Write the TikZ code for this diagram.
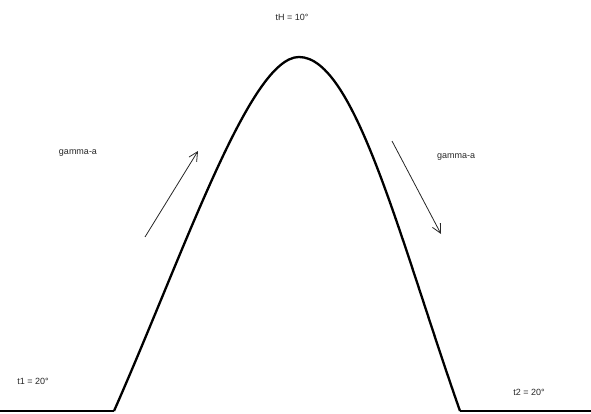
\documentclass[tikz,border=0pt]{standalone}
\usepackage{fontspec}
\setmainfont{Liberation Sans}
\usetikzlibrary{arrows.meta}
\begin{document}
\begin{tikzpicture}[x=1pt,y=-1pt,
  lbl/.style={font=\fontsize{9}{10}\selectfont, text=black!85, inner sep=0pt},
  curve/.style={line width=2.3pt, line join=round},
  base/.style={line width=1.6pt},
  flow/.style={line width=0.8pt, black!85, -{Straight Barb[length=9pt,width=9pt,line width=0.8pt]}}]
\useasboundingbox (0,0) rectangle (591,414);
% labels
\node[lbl] (tH) at (292,17) {tH = 10°};
\node[lbl] (ga1) at (78,153) {gamma-a};
\node[lbl] (ga2) at (456,157) {gamma-a};
\node[lbl] (t1) at (33,381) {t1 = 20°};
\node[lbl] (t2) at (529,392) {t2 = 20°};
% base lines
\coordinate (L0) at (0,411);
\coordinate (L1) at (114,411);
\coordinate (P) at (299,57);
\coordinate (R1) at (460,411);
\coordinate (R0) at (591,411);
\draw[base] (L0) -- (L1);
\draw[base] (R1) -- (R0);
% bell curve
\draw[curve] (L1) .. controls (185,250) and (250,57) .. (P)
                  .. controls (355,57) and (400,240) .. (R1);
% arrows
\coordinate (a1s) at (145,237);
\coordinate (a1e) at (198,151);
\coordinate (a2s) at (392,141);
\coordinate (a2e) at (441,234);
\draw[flow] (a1s) -- (a1e);
\draw[flow] (a2s) -- (a2e);
\end{tikzpicture}
\end{document}
